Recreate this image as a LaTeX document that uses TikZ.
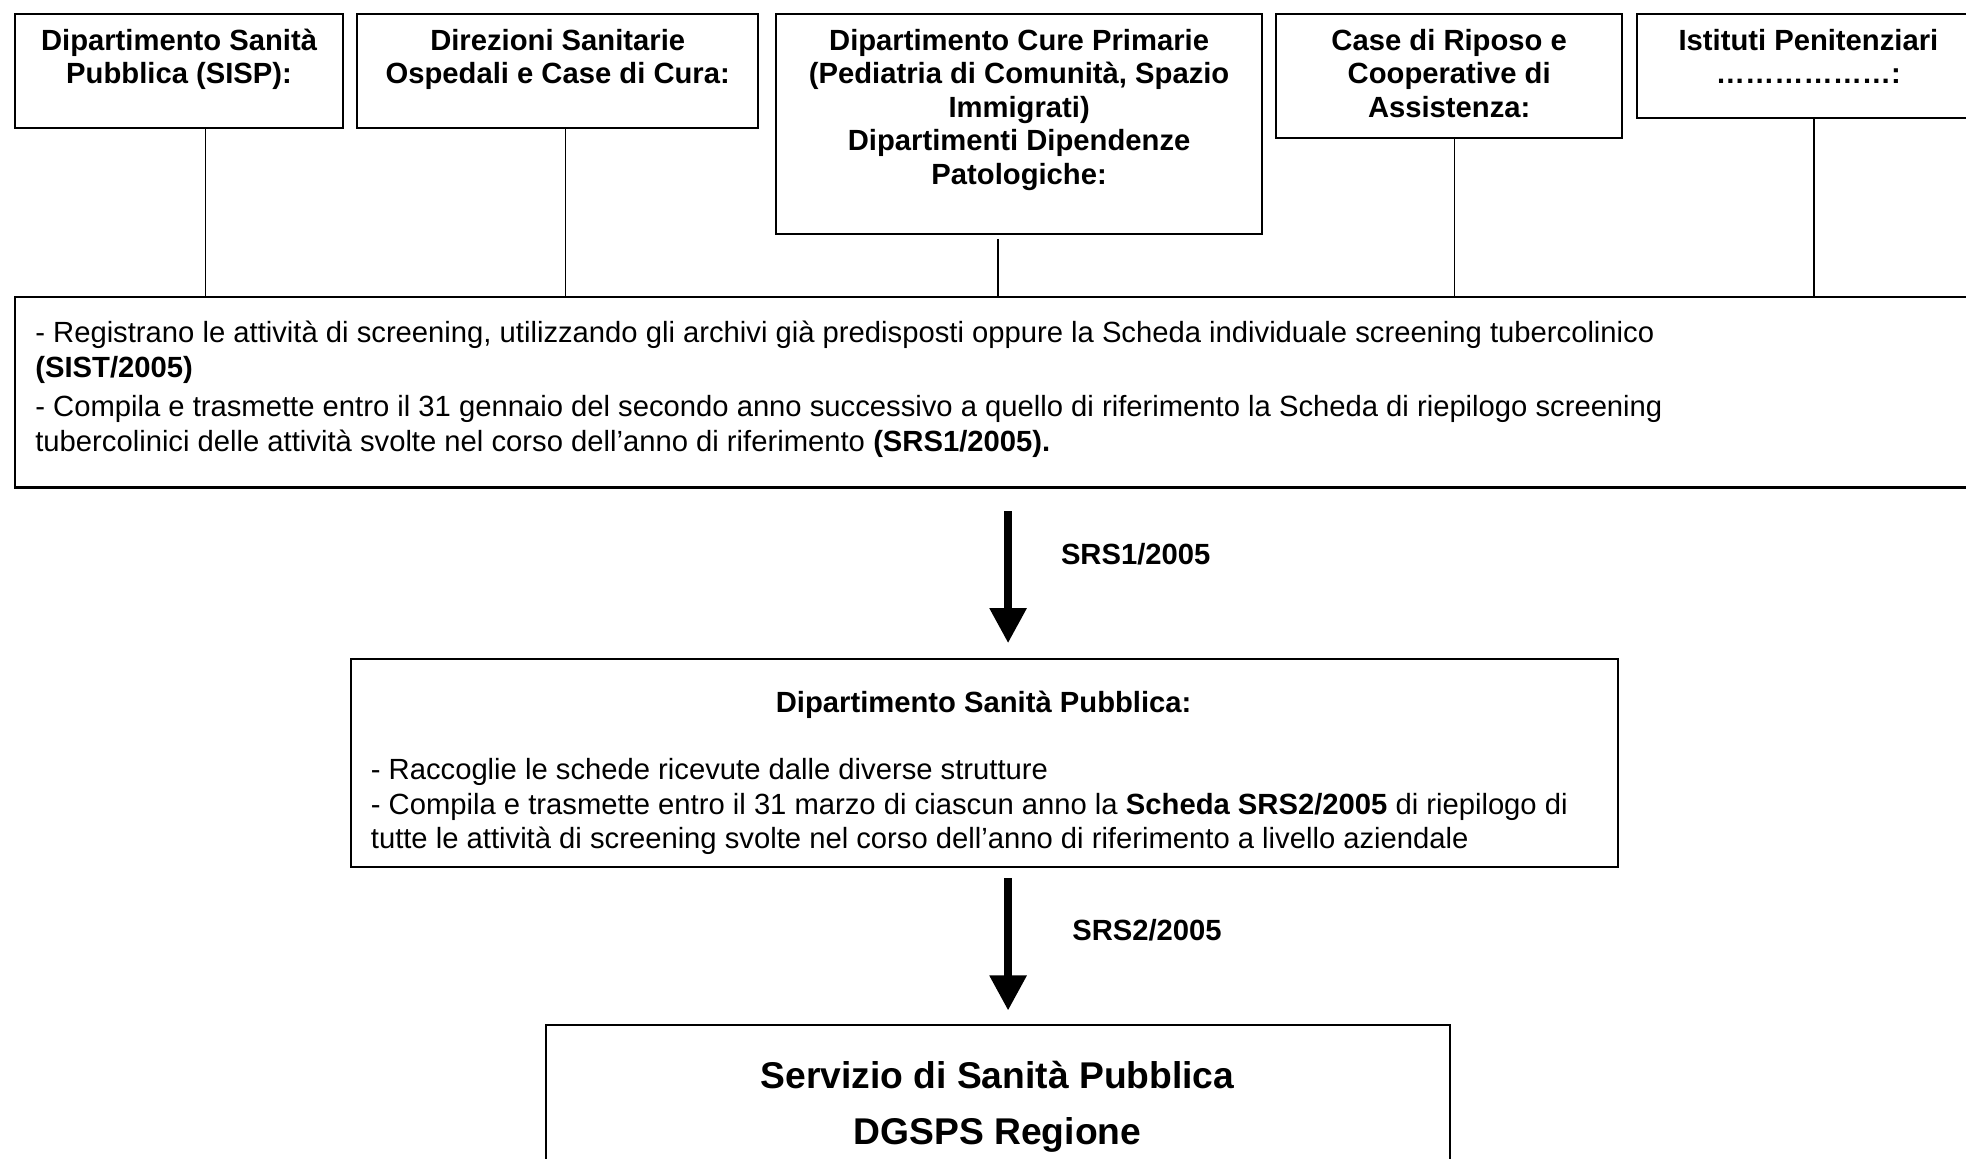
\documentclass[tikz,border=0pt]{standalone}
\usepackage{fontspec}
\setmainfont{Liberation Sans}
\usetikzlibrary{arrows.meta}

\tikzset{
  sbox/.style={draw, line width=1.6pt, inner sep=0pt, anchor=north west},
  stitle/.style={font=\bfseries\fontsize{23.3pt}{26.8pt}\selectfont, align=center, anchor=base, inner sep=0pt},
  stext/.style={font=\fontsize{23.3pt}{27.5pt}\selectfont, align=left, anchor=base west, inner sep=0pt},
  slabel/.style={font=\bfseries\fontsize{23.3pt}{26.8pt}\selectfont, anchor=base west, inner sep=0pt},
  slink/.style={line width=1.3pt},
  sflow/.style={line width=6.6pt, -{Triangle[length=28pt,width=28pt]}}
}

\begin{document}
\begin{tikzpicture}[x=1pt,y=-1pt]
\path[fill=white, use as bounding box] (0,0) rectangle (1568,924);

%%%%%%%%%%%%%%%%%%%%%%%%%%%%%%% strutture
\node[sbox, minimum width=262pt, minimum height=91pt] (sisp) at (11,10) {};
\node[sbox, minimum width=320pt, minimum height=91pt] (dirs) at (284,10) {};
\node[sbox, minimum width=388pt, minimum height=176pt] (dcp) at (618,10) {};
\node[sbox, minimum width=276pt, minimum height=99pt] (riposo) at (1017,10) {};
\node[sbox, minimum width=273pt, minimum height=83pt] (ipen) at (1305,10) {};

% the base anchor sits on the last line
\node[stitle] (sisp-t) at ([yshift=-56.8pt]sisp.north) {Dipartimento Sanità\\Pubblica (SISP):};
\node[stitle] (dirs-t) at ([yshift=-56.8pt]dirs.north) {Direzioni Sanitarie\\Ospedali e Case di Cura:};
\node[stitle] (dcp-t) at ([yshift=-137.2pt]dcp.north) {Dipartimento Cure Primarie\\(Pediatria di Comunità, Spazio\\Immigrati)\\Dipartimenti Dipendenze\\Patologiche:};
\node[stitle] (riposo-t) at ([yshift=-83.6pt]riposo.north) {Case di Riposo e\\Cooperative di\\Assistenza:};
\node[stitle] (ipen-t) at ([yshift=-56.8pt]ipen.north) {Istituti Penitenziari\\………………:};

%%%%%%%%%%%%%%%%%%%%%%%%%%%%%%% registrazione
\node[sbox, minimum width=1575pt, minimum height=152pt] (wide) at (11,236) {};
\node[stext] (wide-t) at (28,360) {- Registrano le attività di screening, utilizzando gli archivi già predisposti oppure la Scheda individuale screening tubercolinico\\
\textbf{(SIST/2005)}\\[4pt]
- Compila e trasmette entro il 31 gennaio del secondo anno successivo a quello di riferimento la Scheda di riepilogo screening\\
tubercolinici delle attività svolte nel corso dell’anno di riferimento \textbf{(SRS1/2005).}};

\foreach \n/\x/\s in {sisp/164/0, dirs/451/0, dcp/796/3, riposo/1160/0, ipen/1447/0}
  \draw[slink, shorten <=\s pt] (\n.south -| \x,0) -- (wide.north -| \x,0);

%%%%%%%%%%%%%%%%%%%%%%%%%%%%%%% aziendale
\node[sbox, minimum width=1011pt, minimum height=166pt] (dsp) at (279,525) {};
\node[stitle] (dsp-t) at (784.5,568) {Dipartimento Sanità Pubblica:};
\node[stext] (dsp-b) at (295.6,677) {- Raccoglie le schede ricevute dalle diverse strutture\\
- Compila e trasmette entro il 31 marzo di ciascun anno la \textbf{Scheda SRS2/2005} di riepilogo di\\
tutte le attività di screening svolte nel corso dell’anno di riferimento a livello aziendale};

%%%%%%%%%%%%%%%%%%%%%%%%%%%%%%% regione
\node[sbox, minimum width=721pt, minimum height=140pt] (sgsp) at (435,817) {};
\node[stitle, font=\bfseries\fontsize{29.7pt}{45pt}\selectfont] (sgsp-t) at (795.5,913) {Servizio di Sanità Pubblica\\DGSPS Regione};

%%%%%%%%%%%%%%%%%%%%%%%%%%%%%%% flussi
\coordinate (axis) at (804,0);
\draw[sflow, shorten <=18pt, shorten >=12pt] (wide.south -| axis) -- (dsp.north -| axis);
\draw[sflow, shorten <=8pt, shorten >=11pt] (dsp.south -| axis) -- (sgsp.north -| axis);

\node[slabel] (srs1) at (846,450) {SRS1/2005};
\node[slabel] (srs2) at (855,750) {SRS2/2005};
\end{tikzpicture}
\end{document}
